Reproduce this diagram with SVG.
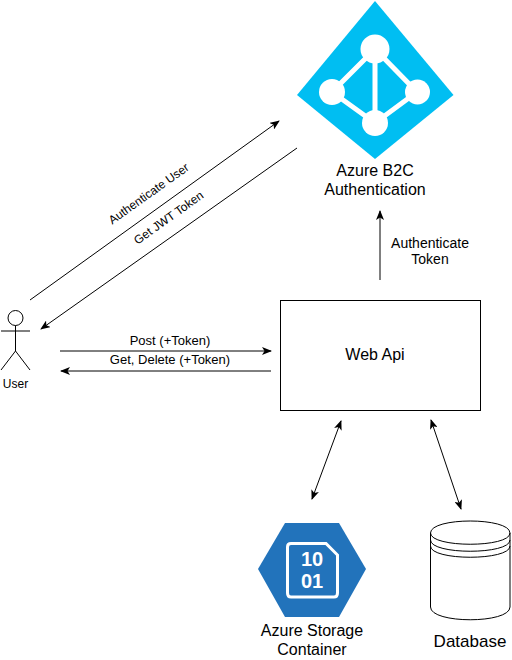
<svg xmlns="http://www.w3.org/2000/svg" width="512" height="660" viewBox="0 0 512 660">
<style>
text{font-family:"Liberation Sans",Arial,sans-serif;fill:#000;text-anchor:middle}
.u{font-size:12px}.s{font-size:13px}.a{font-size:14px}.m{font-size:16px}
.l{fill:none;stroke:#000;stroke-width:1}
.w{stroke:#fff;stroke-width:5;fill:none}
</style>
<defs>
<marker id="a" viewBox="0 0 10 8" refX="9" refY="4" markerWidth="10" markerHeight="8" markerUnits="userSpaceOnUse" orient="auto-start-reverse"><path d="M0 0L10 4L0 8L2.500 4Z" fill="#000"/></marker>
</defs>
<rect width="512" height="660" fill="#fff"/>
<g id="connectors">
<path class="l" d="M30 300L279 121" marker-end="url(#a)"/>
<path class="l" d="M297 148L41 329" marker-end="url(#a)"/>
<path class="l" d="M60 351H271" marker-end="url(#a)"/>
<path class="l" d="M271 371H61" marker-end="url(#a)"/>
<path class="l" d="M380 280V211" marker-end="url(#a)"/>
<path class="l" d="M341 421L312 499" marker-start="url(#a)" marker-end="url(#a)"/>
<path class="l" d="M431 420L461 509" marker-start="url(#a)" marker-end="url(#a)"/>
</g>
<g id="connector-labels">
<text class="u" transform="translate(151 197) rotate(-35.500)">Authenticate User</text>
<text class="u" transform="translate(171 221) rotate(-35.500)">Get JWT Token</text>
<text class="s" x="170" y="345">Post (+Token)</text>
<text class="s" x="170" y="364">Get, Delete (+Token)</text>
<text class="a" x="430" y="248">Authenticate</text>
<text class="a" x="430" y="264">Token</text>
</g>
<g id="azure-b2c">
<path d="M375 1L453.500 95L375 159L297 95Z" fill="#00bef2"/>
<path class="w" d="M375 49L332 92L375 123L417 92ZM375 49V123"/>
<g fill="#fff"><circle cx="375" cy="49" r="14.500"/><circle cx="332" cy="92" r="13"/><circle cx="417.500" cy="92" r="12.500"/><circle cx="375" cy="123" r="13"/></g>
<text class="m" x="375" y="176">Azure B2C</text>
<text class="m" x="375" y="195">Authentication</text>
</g>
<g id="user">
<circle class="l" cx="15.500" cy="318" r="7.500"/>
<path class="l" d="M15.500 325.500V351M1 331H30M15.500 351L1 370M15.500 351L30 370"/>
<text class="u" x="15.500" y="388">User</text>
</g>
<g id="web-api">
<rect class="l" x="280.500" y="300.500" width="200" height="110"/>
<text class="m" x="375" y="360">Web Api</text>
</g>
<g id="storage">
<path d="M258 569L285 523H339L366 569L339 617H285Z" fill="#2273bb"/>
<path d="M291 543.500H326L337.500 555V593Q337.500 597 334 597H291Q287.500 597 287.500 593V547Q287.500 543.500 291 543.500Z" fill="none" stroke="#fff" stroke-width="3"/>
<text x="312" y="566" font-size="20" font-weight="bold" style="fill:#fff">10</text>
<text x="312" y="588" font-size="20" font-weight="bold" style="fill:#fff">01</text>
<text class="m" x="312" y="636">Azure Storage</text>
<text class="m" x="312" y="655">Container</text>
</g>
<g id="database">
<path class="l" d="M430.500 533C430.500 517 510 517 510 533V607C510 624 430.500 624 430.500 607Z"/>
<path class="l" d="M430.500 533C430.500 548 510 548 510 533M430.500 540C430.500 555 510 555 510 540M430.500 546C430.500 561 510 561 510 546"/>
<text x="470" y="647" font-size="17">Database</text>
</g>
</svg>
